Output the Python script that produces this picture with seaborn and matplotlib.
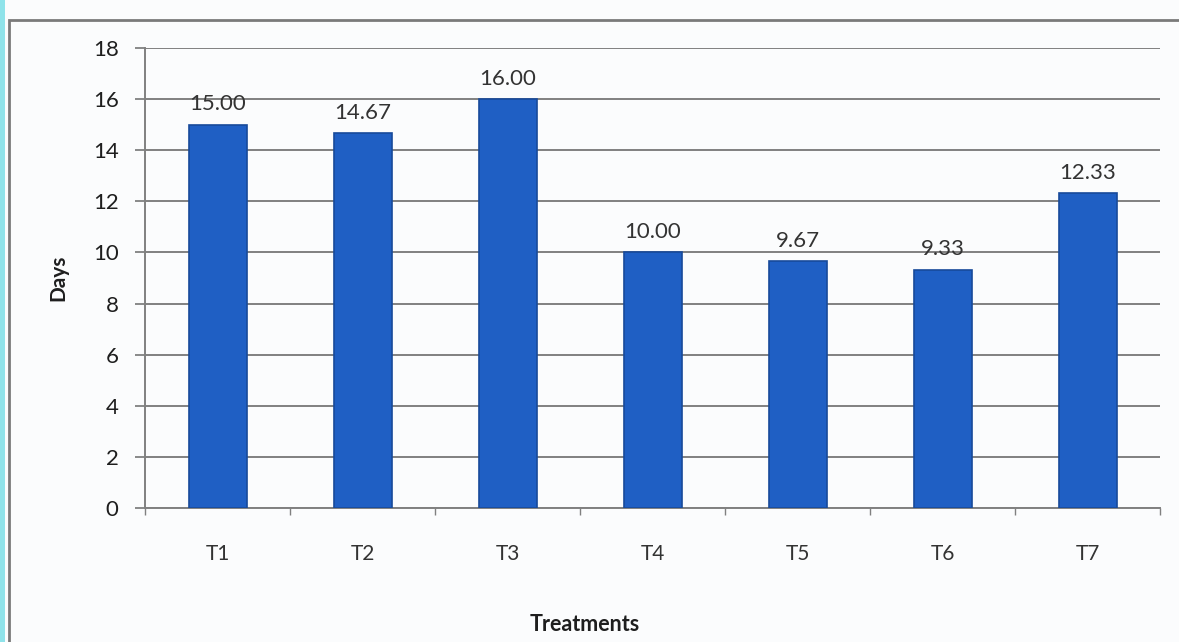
import matplotlib
matplotlib.use("Agg")
import matplotlib.pyplot as plt
import matplotlib.patches as mpatches
import seaborn as sns
import pandas as pd

treatments = ["T1", "T2", "T3", "T4", "T5", "T6", "T7"]
days = [15.00, 14.67, 16.00, 10.00, 9.67, 9.33, 12.33]
value_labels = ["15.00", "14.67", "16.00", "10.00", "9.67", "9.33", "12.33"]
y_ticks = [0, 2, 4, 6, 8, 10, 12, 14, 16, 18]

df = pd.DataFrame({"Treatment": treatments, "Days": days})

sns.set_theme(style="white")
plt.rcParams["font.family"] = ["Lato", "DejaVu Sans"]

fig = plt.figure(figsize=(11.79, 6.42), dpi=100)
fig.patch.set_facecolor("#fbfcfd")

# outer chart frame and the coloured page strip on the left
fig.add_artist(mpatches.Rectangle((0, 0), 5 / 1179, 1, transform=fig.transFigure,
                                  facecolor="#8fe3ea", edgecolor="none", zorder=0))
fig.add_artist(mpatches.Rectangle((9 / 1179, -0.05), 1.05, 1 - 20 / 642 + 0.05,
                                  transform=fig.transFigure, facecolor="none",
                                  edgecolor="#7a7a7a", linewidth=2.0, zorder=1))

ax = fig.add_axes([145 / 1179, 1 - 508 / 642, 1015 / 1179, 460 / 642])
ax.set_facecolor("none")

sns.barplot(data=df, x="Treatment", y="Days", ax=ax, color="#1f5fc4",
            width=0.4, edgecolor="#174a9a", linewidth=1.2, saturation=1, zorder=3)

for i, (v, lab) in enumerate(zip(days, value_labels)):
    ax.text(i, v + 0.4, lab, ha="center", va="bottom", fontsize=16, color="#333333")

ax.set_ylim(0, 18)
ax.set_xlim(-0.5, 6.5)
ax.set_yticks(y_ticks)
ax.yaxis.grid(True, color="#808080", linewidth=1.4, zorder=0)
ax.xaxis.grid(False)
for side in ["top", "right"]:
    ax.spines[side].set_visible(False)
for side in ["left", "bottom"]:
    ax.spines[side].set_color("#808080")
    ax.spines[side].set_linewidth(1.4)

ax.tick_params(axis="y", which="major", left=True, length=7, width=1.3,
               color="#808080", labelsize=16, labelcolor="#1e1e1e", pad=12)
ax.tick_params(axis="x", which="major", bottom=False, labelsize=15,
               labelcolor="#333333", pad=20)
ax.set_xticks([i + 0.5 for i in range(-1, 7)], minor=True)
ax.tick_params(axis="x", which="minor", bottom=True, length=5, width=1.0, color="#808080")

ax.set_xlabel("Treatments", fontsize=15.5, fontweight="bold", color="#1e1e1e")
ax.set_ylabel("Days", fontsize=15, fontweight="bold", color="#1e1e1e")
ax.xaxis.set_label_coords((585 - 145) / 1015, -(614 - 508) / 460)
ax.yaxis.set_label_coords(-(145 - 68) / 1015, 0.5)

fig.savefig("out.png", dpi=100)
